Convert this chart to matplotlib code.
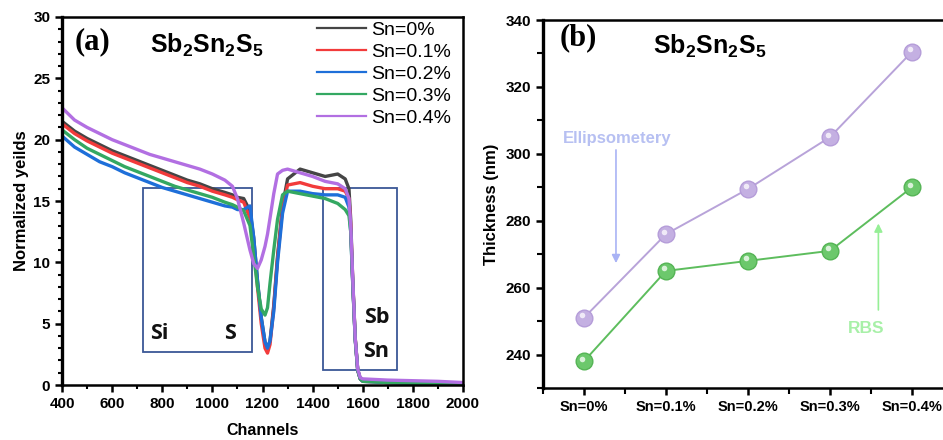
import numpy as np
import matplotlib
matplotlib.use("Agg")
import matplotlib.pyplot as plt
from matplotlib.patches import Rectangle
from matplotlib.lines import Line2D
from matplotlib.ticker import MultipleLocator
from matplotlib.transforms import offset_copy

plt.rcParams["font.family"] = ["Liberation Sans", "DejaVu Sans"]
plt.rcParams["mathtext.fontset"] = "custom"
plt.rcParams["mathtext.rm"] = "Liberation Sans"
plt.rcParams["mathtext.bf"] = "Liberation Sans:bold"

# ── panel (a): RBS spectra ────────────────────────────────────────────────────
channels = [400, 450, 500, 550, 600, 650, 700, 750, 800, 850, 900, 950, 1000,
            1050, 1080, 1100, 1125, 1150, 1165, 1180, 1195, 1210, 1220, 1230,
            1245, 1260, 1280, 1300, 1350, 1400, 1450, 1500, 1530, 1545, 1552,
            1560, 1570, 1580, 1590, 1600, 1650, 1700, 1800, 1900, 2000]

sn_0 = [21.5, 20.7, 20.1, 19.6, 19.1, 18.7, 18.3, 17.9, 17.5, 17.1, 16.7, 16.4, 16.0,
        15.7, 15.5, 15.3, 15.2, 14.2, 12.0, 8.5, 5.5, 3.5, 3.0, 3.6,
        6.5, 10.5, 14.6, 16.8, 17.6, 17.3, 17.0, 17.2, 16.8, 16.0, 13.5,
        8.5, 3.8, 1.2, 0.5, 0.35, 0.3, 0.25, 0.2, 0.15, 0.1]
sn_01 = [21.3, 20.5, 19.9, 19.4, 18.9, 18.5, 18.1, 17.7, 17.3, 16.9, 16.5, 16.2, 15.8,
         15.5, 15.3, 15.1, 14.9, 13.6, 11.5, 8.0, 5.0, 3.0, 2.6, 3.3,
         6.3, 10.3, 14.4, 16.3, 16.5, 16.2, 16.0, 16.0, 15.8, 15.2, 13.0,
         8.5, 3.8, 1.2, 0.5, 0.3, 0.25, 0.2, 0.15, 0.12, 0.1]
sn_02 = [20.3, 19.4, 18.8, 18.2, 17.8, 17.3, 16.9, 16.5, 16.1, 15.8, 15.5, 15.2, 14.9,
         14.6, 14.5, 14.3, 14.3, 14.6, 12.0, 8.5, 5.5, 3.5, 3.0, 3.6,
         6.0, 10.0, 14.0, 15.8, 15.8, 15.6, 15.5, 15.5, 15.3, 14.5, 12.5,
         8.3, 3.7, 1.2, 0.5, 0.3, 0.25, 0.2, 0.15, 0.12, 0.1]
sn_03 = [20.8, 20.0, 19.3, 18.8, 18.3, 17.8, 17.4, 17.0, 16.6, 16.2, 15.9, 15.6, 15.3,
         14.9, 14.7, 14.5, 14.2, 13.0, 10.5, 8.0, 6.2, 5.7, 6.3, 8.3,
         11.0, 13.5, 15.5, 15.8, 15.6, 15.4, 15.2, 14.8, 14.3, 13.8, 12.5,
         8.3, 3.7, 1.2, 0.5, 0.3, 0.25, 0.2, 0.15, 0.12, 0.1]
sn_04 = [22.6, 21.6, 21.0, 20.5, 20.0, 19.6, 19.2, 18.8, 18.5, 18.2, 17.9, 17.6, 17.2,
         16.7, 16.2, 15.2, 13.2, 11.0, 9.9, 9.5, 10.2, 11.3, 12.3, 13.6,
         15.6, 17.2, 17.5, 17.6, 17.3, 17.0, 16.6, 16.4, 16.0, 15.2, 13.0,
         8.7, 3.8, 1.3, 0.6, 0.5, 0.45, 0.4, 0.35, 0.3, 0.2]

spectra = [sn_0, sn_01, sn_02, sn_03, sn_04]
spectra_labels = ["Sn=0%", "Sn=0.1%", "Sn=0.2%", "Sn=0.3%", "Sn=0.4%"]
spectra_colors = ["#454545", "#f23b3b", "#1e6fd9", "#34a862", "#b26fe2"]

# ── panel (b): thickness ──────────────────────────────────────────────────────
samples = ["Sn=0%", "Sn=0.1%", "Sn=0.2%", "Sn=0.3%", "Sn=0.4%"]
ellipsometry = [251.0, 276.0, 289.5, 305.0, 330.5]
rbs = [238.0, 265.0, 268.0, 271.0, 290.0]

fig = plt.figure(figsize=(9.43, 4.40), dpi=100)
ax1 = fig.add_axes([62 / 943, 1 - 385 / 440, 401 / 943, 368 / 440])
ax2 = fig.add_axes([543 / 943, 1 - 388 / 440, 410 / 943, 368 / 440])

# ── (a) ──
for ys, col in zip(spectra, spectra_colors):
    ax1.plot(channels, ys, color=col, lw=2.4, solid_joinstyle="round")

ax1.set_xlim(400, 2000)
ax1.set_ylim(0, 30)
ax1.xaxis.set_major_locator(MultipleLocator(200))
ax1.xaxis.set_minor_locator(MultipleLocator(100))
ax1.yaxis.set_major_locator(MultipleLocator(5))
ax1.yaxis.set_minor_locator(MultipleLocator(1))
ax1.tick_params(which="major", direction="out", length=5, width=1.8,
                labelsize=11, top=False, right=False)
ax1.tick_params(which="minor", direction="out", length=3, width=1.5,
                top=False, right=False)
for lab in ax1.get_xticklabels() + ax1.get_yticklabels():
    lab.set_fontweight("bold")
for side in ["top", "right", "bottom"]:
    ax1.spines[side].set_linewidth(1.8)
ax1.spines["left"].set_linewidth(2.4)
ax1.set_xlabel("Channels", fontsize=11.5, fontweight="bold", labelpad=9)
ax1.set_ylabel("Normalized yeilds", fontsize=12, fontweight="bold", labelpad=3)

box_col = "#3a5796"
ax1.add_patch(Rectangle((722, 2.7), 436, 13.4, fill=False, ec=box_col, lw=1.3))
ax1.add_patch(Rectangle((1441, 1.2), 296, 14.9, fill=False, ec=box_col, lw=1.3))
elem_font = dict(fontsize=15.5, fontweight="bold", family=["Open Sans", "DejaVu Sans"],
                 color="#111111", ha="center", va="center")
ax1.text(790, 4.2, "Si", **elem_font)
ax1.text(1072, 4.2, "S", **elem_font)
ax1.text(1655, 5.5, "Sb", **elem_font)
ax1.text(1655, 2.7, "Sn", **elem_font)

ax1.text(0.077, 0.932, "(a)", transform=ax1.transAxes, fontsize=22,
         fontweight="bold", family=["Liberation Serif"], ha="center", va="center")
ax1.text(0.362, 0.924, r"$\mathbf{Sb_2Sn_2S_5}$", transform=ax1.transAxes,
         fontsize=18, ha="center", va="center")

handles = [Line2D([], [], color=c, lw=1.6) for c in spectra_colors]
ax1.legend(handles, spectra_labels, loc="upper right", frameon=False,
           fontsize=14, handlelength=2.5, handletextpad=0.3,
           labelspacing=0.22, bbox_to_anchor=(1.015, 1.035))

# ── (b) ──
xs = np.arange(len(samples))
hl = offset_copy(ax2.transData, fig=fig, x=-1.8, y=1.8, units="points")
for vals, lc, mc, ec in [(ellipsometry, "#b8a3d9", "#c4b0e2", "#b59dd9"),
                         (rbs, "#5dbd5d", "#6cc86c", "#55b455")]:
    ax2.plot(xs, vals, color=lc, lw=1.4, zorder=2)
    ax2.plot(xs, vals, "o", ms=12, mfc=mc, mec=ec, mew=1.0, zorder=3)
    ax2.plot(xs, vals, "o", ms=4, mfc="white", mec="none", alpha=0.75,
             transform=hl, zorder=4)

ax2.set_xlim(-0.5, 4.5)
ax2.set_ylim(230, 340)
ax2.set_xticks(xs)
ax2.set_xticklabels(samples)
ax2.xaxis.set_minor_locator(MultipleLocator(0.5))
ax2.yaxis.set_major_locator(MultipleLocator(20))
ax2.yaxis.set_minor_locator(MultipleLocator(10))
ax2.tick_params(which="major", direction="out", length=5, width=1.8,
                labelsize=11, top=False, right=False)
ax2.tick_params(which="minor", direction="out", length=4, width=1.5,
                top=False, right=False)
ax2.tick_params(axis="x", labelsize=10.5)
for lab in ax2.get_xticklabels() + ax2.get_yticklabels():
    lab.set_fontweight("bold")
for side in ["top", "right", "bottom"]:
    ax2.spines[side].set_linewidth(1.8)
ax2.spines["left"].set_linewidth(2.4)
ax2.set_ylabel("Thickness (nm)", fontsize=12, fontweight="bold", labelpad=5)

ax2.text(0.085, 0.951, "(b)", transform=ax2.transAxes, fontsize=22,
         fontweight="bold", family=["Liberation Serif"], ha="center", va="center")
ax2.text(0.407, 0.927, r"$\mathbf{Sb_2Sn_2S_5}$", transform=ax2.transAxes,
         fontsize=18, ha="center", va="center")

ax2.text(0.4, 304.7, "Ellipsometery", color="#b7c0f2", fontsize=12,
         fontweight="bold", ha="center", va="center")
ax2.annotate("", xy=(0.39, 266.5), xytext=(0.39, 302),
             arrowprops=dict(arrowstyle="-|>", color="#a9b3f5", lw=1.2,
                             mutation_scale=12))
ax2.text(3.44, 247.8, "RBS", color="#a8f0a8", fontsize=12.5,
         fontweight="bold", ha="center", va="center")
ax2.annotate("", xy=(3.59, 280), xytext=(3.59, 252.5),
             arrowprops=dict(arrowstyle="-|>", color="#96ef96", lw=1.2,
                             mutation_scale=12))

fig.savefig("out.png", dpi=100)
